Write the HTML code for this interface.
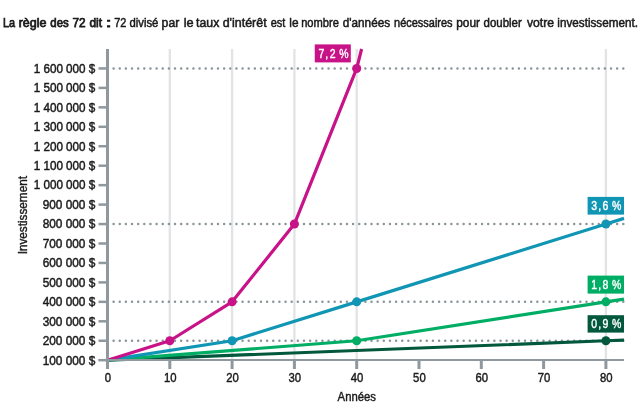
<!DOCTYPE html>
<html><head><meta charset="utf-8"><style>
html,body{margin:0;padding:0;background:#fff;}
svg{display:block;font-family:"Liberation Sans",sans-serif;will-change:transform;}
</style></head><body>
<svg width="642" height="419" viewBox="0 0 642 419">
<rect width="642" height="419" fill="#fff"/>
<line x1="169.80" y1="49" x2="169.80" y2="360" stroke="#e2e3e6" stroke-width="2.3"/>
<line x1="232.10" y1="49" x2="232.10" y2="360" stroke="#e2e3e6" stroke-width="2.3"/>
<line x1="294.40" y1="49" x2="294.40" y2="360" stroke="#e2e3e6" stroke-width="2.3"/>
<line x1="356.70" y1="49" x2="356.70" y2="360" stroke="#e2e3e6" stroke-width="2.3"/>
<line x1="605.90" y1="49" x2="605.90" y2="360" stroke="#e2e3e6" stroke-width="2.3"/>
<line x1="113.6" y1="68.45" x2="624" y2="68.45" stroke="#8a9499" stroke-width="2.5" stroke-linecap="round" stroke-dasharray="0 6.141"/>
<line x1="113.6" y1="224.05" x2="624" y2="224.05" stroke="#8a9499" stroke-width="2.5" stroke-linecap="round" stroke-dasharray="0 6.141"/>
<line x1="113.6" y1="301.85" x2="624" y2="301.85" stroke="#8a9499" stroke-width="2.5" stroke-linecap="round" stroke-dasharray="0 6.141"/>
<line x1="113.6" y1="340.75" x2="624" y2="340.75" stroke="#8a9499" stroke-width="2.5" stroke-linecap="round" stroke-dasharray="0 6.141"/>
<polyline points="107.50,360.20 605.90,340.75 624.00,340.05" fill="none" stroke="#02583c" stroke-width="3.2" stroke-linejoin="round"/>
<polyline points="107.50,360.20 356.70,340.75 605.90,301.85 624.00,299.05" fill="none" stroke="#00ad64" stroke-width="3.2" stroke-linejoin="round"/>
<polyline points="107.50,360.20 232.10,340.75 356.70,301.85 605.90,224.05 624.00,218.40" fill="none" stroke="#1096b4" stroke-width="3.2" stroke-linejoin="round"/>
<polyline points="107.50,360.20 169.80,340.75 232.10,301.85 294.40,224.05 356.70,68.45 361.60,49.00" fill="none" stroke="#c81287" stroke-width="3.2" stroke-linejoin="round"/>
<circle cx="605.90" cy="340.75" r="4.5" fill="#02583c"/>
<circle cx="356.70" cy="340.75" r="4.5" fill="#00ad64"/>
<circle cx="605.90" cy="301.85" r="4.5" fill="#00ad64"/>
<circle cx="232.10" cy="340.75" r="4.5" fill="#1096b4"/>
<circle cx="356.70" cy="301.85" r="4.5" fill="#1096b4"/>
<circle cx="605.90" cy="224.05" r="4.5" fill="#1096b4"/>
<circle cx="169.80" cy="340.75" r="4.5" fill="#c81287"/>
<circle cx="232.10" cy="301.85" r="4.5" fill="#c81287"/>
<circle cx="294.40" cy="224.05" r="4.5" fill="#c81287"/>
<circle cx="356.70" cy="68.45" r="4.5" fill="#c81287"/>
<line x1="107.5" y1="49" x2="107.5" y2="369" stroke="#8f989d" stroke-width="3"/>
<line x1="98.5" y1="360" x2="624" y2="360" stroke="#8f989d" stroke-width="2.2"/>
<line x1="98.5" y1="360.20" x2="107" y2="360.20" stroke="#8f989d" stroke-width="2.5"/>
<line x1="98.5" y1="340.75" x2="107" y2="340.75" stroke="#8f989d" stroke-width="2.5"/>
<line x1="98.5" y1="321.30" x2="107" y2="321.30" stroke="#8f989d" stroke-width="2.5"/>
<line x1="98.5" y1="301.85" x2="107" y2="301.85" stroke="#8f989d" stroke-width="2.5"/>
<line x1="98.5" y1="282.40" x2="107" y2="282.40" stroke="#8f989d" stroke-width="2.5"/>
<line x1="98.5" y1="262.95" x2="107" y2="262.95" stroke="#8f989d" stroke-width="2.5"/>
<line x1="98.5" y1="243.50" x2="107" y2="243.50" stroke="#8f989d" stroke-width="2.5"/>
<line x1="98.5" y1="224.05" x2="107" y2="224.05" stroke="#8f989d" stroke-width="2.5"/>
<line x1="98.5" y1="204.60" x2="107" y2="204.60" stroke="#8f989d" stroke-width="2.5"/>
<line x1="98.5" y1="185.15" x2="107" y2="185.15" stroke="#8f989d" stroke-width="2.5"/>
<line x1="98.5" y1="165.70" x2="107" y2="165.70" stroke="#8f989d" stroke-width="2.5"/>
<line x1="98.5" y1="146.25" x2="107" y2="146.25" stroke="#8f989d" stroke-width="2.5"/>
<line x1="98.5" y1="126.80" x2="107" y2="126.80" stroke="#8f989d" stroke-width="2.5"/>
<line x1="98.5" y1="107.35" x2="107" y2="107.35" stroke="#8f989d" stroke-width="2.5"/>
<line x1="98.5" y1="87.90" x2="107" y2="87.90" stroke="#8f989d" stroke-width="2.5"/>
<line x1="98.5" y1="68.45" x2="107" y2="68.45" stroke="#8f989d" stroke-width="2.5"/>
<line x1="169.80" y1="360" x2="169.80" y2="369" stroke="#8f989d" stroke-width="3"/>
<line x1="232.10" y1="360" x2="232.10" y2="369" stroke="#8f989d" stroke-width="3"/>
<line x1="294.40" y1="360" x2="294.40" y2="369" stroke="#8f989d" stroke-width="3"/>
<line x1="356.70" y1="360" x2="356.70" y2="369" stroke="#8f989d" stroke-width="3"/>
<line x1="419.00" y1="360" x2="419.00" y2="369" stroke="#8f989d" stroke-width="3"/>
<line x1="481.30" y1="360" x2="481.30" y2="369" stroke="#8f989d" stroke-width="3"/>
<line x1="543.60" y1="360" x2="543.60" y2="369" stroke="#8f989d" stroke-width="3"/>
<line x1="605.90" y1="360" x2="605.90" y2="369" stroke="#8f989d" stroke-width="3"/>
<rect x="314.75" y="44.4" width="36.05" height="18" fill="#c81287"/><text transform="translate(321.35,57.60) scale(0.86,1)" text-anchor="middle" fill="#fff" font-size="12.2" stroke="#fff" stroke-width="0.4">7</text><text transform="translate(326.75,57.60) scale(0.86,1)" text-anchor="middle" fill="#fff" font-size="12.2" stroke="#fff" stroke-width="0.4">,</text><text transform="translate(332.55,57.60) scale(0.86,1)" text-anchor="middle" fill="#fff" font-size="12.2" stroke="#fff" stroke-width="0.4">2</text><text transform="translate(343.85,57.60) scale(0.86,1)" text-anchor="middle" fill="#fff" font-size="12.2" stroke="#fff" stroke-width="0.4">%</text>
<rect x="587.6" y="196.9" width="36.4" height="17.7" fill="#1096b4"/><text transform="translate(594.20,210.10) scale(0.86,1)" text-anchor="middle" fill="#fff" font-size="12.2" stroke="#fff" stroke-width="0.4">3</text><text transform="translate(599.60,210.10) scale(0.86,1)" text-anchor="middle" fill="#fff" font-size="12.2" stroke="#fff" stroke-width="0.4">,</text><text transform="translate(605.40,210.10) scale(0.86,1)" text-anchor="middle" fill="#fff" font-size="12.2" stroke="#fff" stroke-width="0.4">6</text><text transform="translate(616.70,210.10) scale(0.86,1)" text-anchor="middle" fill="#fff" font-size="12.2" stroke="#fff" stroke-width="0.4">%</text>
<rect x="587.6" y="275.6" width="36.4" height="18" fill="#00ad64"/><text transform="translate(594.20,288.80) scale(0.86,1)" text-anchor="middle" fill="#fff" font-size="12.2" stroke="#fff" stroke-width="0.4">1</text><text transform="translate(599.60,288.80) scale(0.86,1)" text-anchor="middle" fill="#fff" font-size="12.2" stroke="#fff" stroke-width="0.4">,</text><text transform="translate(605.40,288.80) scale(0.86,1)" text-anchor="middle" fill="#fff" font-size="12.2" stroke="#fff" stroke-width="0.4">8</text><text transform="translate(616.70,288.80) scale(0.86,1)" text-anchor="middle" fill="#fff" font-size="12.2" stroke="#fff" stroke-width="0.4">%</text>
<rect x="587.6" y="315.2" width="36.4" height="17.4" fill="#02583c"/><text transform="translate(594.20,328.40) scale(0.86,1)" text-anchor="middle" fill="#fff" font-size="12.2" stroke="#fff" stroke-width="0.4">0</text><text transform="translate(599.60,328.40) scale(0.86,1)" text-anchor="middle" fill="#fff" font-size="12.2" stroke="#fff" stroke-width="0.4">,</text><text transform="translate(605.40,328.40) scale(0.86,1)" text-anchor="middle" fill="#fff" font-size="12.2" stroke="#fff" stroke-width="0.4">9</text><text transform="translate(616.70,328.40) scale(0.86,1)" text-anchor="middle" fill="#fff" font-size="12.2" stroke="#fff" stroke-width="0.4">%</text>
<text x="95.3" y="364.50" text-anchor="end" font-size="12" fill="#1a1a1a" textLength="52.6" lengthAdjust="spacingAndGlyphs" stroke="#1a1a1a" stroke-width="0.45">100 000 $</text>
<text x="95.3" y="345.05" text-anchor="end" font-size="12" fill="#1a1a1a" textLength="52.6" lengthAdjust="spacingAndGlyphs" stroke="#1a1a1a" stroke-width="0.45">200 000 $</text>
<text x="95.3" y="325.60" text-anchor="end" font-size="12" fill="#1a1a1a" textLength="52.6" lengthAdjust="spacingAndGlyphs" stroke="#1a1a1a" stroke-width="0.45">300 000 $</text>
<text x="95.3" y="306.15" text-anchor="end" font-size="12" fill="#1a1a1a" textLength="52.6" lengthAdjust="spacingAndGlyphs" stroke="#1a1a1a" stroke-width="0.45">400 000 $</text>
<text x="95.3" y="286.70" text-anchor="end" font-size="12" fill="#1a1a1a" textLength="52.6" lengthAdjust="spacingAndGlyphs" stroke="#1a1a1a" stroke-width="0.45">500 000 $</text>
<text x="95.3" y="267.25" text-anchor="end" font-size="12" fill="#1a1a1a" textLength="52.6" lengthAdjust="spacingAndGlyphs" stroke="#1a1a1a" stroke-width="0.45">600 000 $</text>
<text x="95.3" y="247.80" text-anchor="end" font-size="12" fill="#1a1a1a" textLength="52.6" lengthAdjust="spacingAndGlyphs" stroke="#1a1a1a" stroke-width="0.45">700 000 $</text>
<text x="95.3" y="228.35" text-anchor="end" font-size="12" fill="#1a1a1a" textLength="52.6" lengthAdjust="spacingAndGlyphs" stroke="#1a1a1a" stroke-width="0.45">800 000 $</text>
<text x="95.3" y="208.90" text-anchor="end" font-size="12" fill="#1a1a1a" textLength="52.6" lengthAdjust="spacingAndGlyphs" stroke="#1a1a1a" stroke-width="0.45">900 000 $</text>
<text x="95.3" y="189.45" text-anchor="end" font-size="12" fill="#1a1a1a" textLength="61.6" lengthAdjust="spacingAndGlyphs" stroke="#1a1a1a" stroke-width="0.45">1 000 000 $</text>
<text x="95.3" y="170.00" text-anchor="end" font-size="12" fill="#1a1a1a" textLength="61.6" lengthAdjust="spacingAndGlyphs" stroke="#1a1a1a" stroke-width="0.45">1 100 000 $</text>
<text x="95.3" y="150.55" text-anchor="end" font-size="12" fill="#1a1a1a" textLength="61.6" lengthAdjust="spacingAndGlyphs" stroke="#1a1a1a" stroke-width="0.45">1 200 000 $</text>
<text x="95.3" y="131.10" text-anchor="end" font-size="12" fill="#1a1a1a" textLength="61.6" lengthAdjust="spacingAndGlyphs" stroke="#1a1a1a" stroke-width="0.45">1 300 000 $</text>
<text x="95.3" y="111.65" text-anchor="end" font-size="12" fill="#1a1a1a" textLength="61.6" lengthAdjust="spacingAndGlyphs" stroke="#1a1a1a" stroke-width="0.45">1 400 000 $</text>
<text x="95.3" y="92.20" text-anchor="end" font-size="12" fill="#1a1a1a" textLength="61.6" lengthAdjust="spacingAndGlyphs" stroke="#1a1a1a" stroke-width="0.45">1 500 000 $</text>
<text x="95.3" y="72.75" text-anchor="end" font-size="12" fill="#1a1a1a" textLength="61.6" lengthAdjust="spacingAndGlyphs" stroke="#1a1a1a" stroke-width="0.45">1 600 000 $</text>
<text x="107.90" y="382.4" text-anchor="middle" font-size="13.5" fill="#1a1a1a" textLength="6.3" lengthAdjust="spacingAndGlyphs" stroke="#1a1a1a" stroke-width="0.45">0</text>
<text x="170.20" y="382.4" text-anchor="middle" font-size="13.5" fill="#1a1a1a" textLength="12.6" lengthAdjust="spacingAndGlyphs" stroke="#1a1a1a" stroke-width="0.45">10</text>
<text x="232.50" y="382.4" text-anchor="middle" font-size="13.5" fill="#1a1a1a" textLength="12.6" lengthAdjust="spacingAndGlyphs" stroke="#1a1a1a" stroke-width="0.45">20</text>
<text x="294.80" y="382.4" text-anchor="middle" font-size="13.5" fill="#1a1a1a" textLength="12.6" lengthAdjust="spacingAndGlyphs" stroke="#1a1a1a" stroke-width="0.45">30</text>
<text x="357.10" y="382.4" text-anchor="middle" font-size="13.5" fill="#1a1a1a" textLength="12.6" lengthAdjust="spacingAndGlyphs" stroke="#1a1a1a" stroke-width="0.45">40</text>
<text x="419.40" y="382.4" text-anchor="middle" font-size="13.5" fill="#1a1a1a" textLength="12.6" lengthAdjust="spacingAndGlyphs" stroke="#1a1a1a" stroke-width="0.45">50</text>
<text x="481.70" y="382.4" text-anchor="middle" font-size="13.5" fill="#1a1a1a" textLength="12.6" lengthAdjust="spacingAndGlyphs" stroke="#1a1a1a" stroke-width="0.45">60</text>
<text x="544.00" y="382.4" text-anchor="middle" font-size="13.5" fill="#1a1a1a" textLength="12.6" lengthAdjust="spacingAndGlyphs" stroke="#1a1a1a" stroke-width="0.45">70</text>
<text x="606.30" y="382.4" text-anchor="middle" font-size="13.5" fill="#1a1a1a" textLength="12.6" lengthAdjust="spacingAndGlyphs" stroke="#1a1a1a" stroke-width="0.45">80</text>
<text x="356.8" y="401" text-anchor="middle" font-size="12" fill="#1a1a1a" stroke="#1a1a1a" stroke-width="0.4" textLength="38.4" lengthAdjust="spacingAndGlyphs">Années</text>
<text transform="translate(27,215.2) rotate(-90)" text-anchor="middle" font-size="12" fill="#1a1a1a" stroke="#1a1a1a" stroke-width="0.4" textLength="78.3" lengthAdjust="spacingAndGlyphs">Investissement</text>
<text x="3.02" y="26.6" font-size="12.3" fill="#1a1a1a" stroke="#1a1a1a" stroke-width="0.75" textLength="12.07" lengthAdjust="spacingAndGlyphs">La</text><text x="18.68" y="26.6" font-size="12.3" fill="#1a1a1a" stroke="#1a1a1a" stroke-width="0.75" textLength="27.88" lengthAdjust="spacingAndGlyphs">règle</text><text x="50.34" y="26.6" font-size="12.3" fill="#1a1a1a" stroke="#1a1a1a" stroke-width="0.75" textLength="18.36" lengthAdjust="spacingAndGlyphs">des</text><text x="72.52" y="26.6" font-size="12.3" fill="#1a1a1a" stroke="#1a1a1a" stroke-width="0.75" textLength="13.14" lengthAdjust="spacingAndGlyphs">72</text><text x="89.42" y="26.6" font-size="12.3" fill="#1a1a1a" stroke="#1a1a1a" stroke-width="0.75" textLength="12.57" lengthAdjust="spacingAndGlyphs">dit</text><text x="105.87" y="26.6" font-size="12.3" fill="#1a1a1a" stroke="#1a1a1a" stroke-width="0.75" textLength="5.70" lengthAdjust="spacingAndGlyphs">:</text><text x="114.27" y="26.6" font-size="12.3" fill="#1a1a1a" stroke="#1a1a1a" stroke-width="0.5" textLength="12.15" lengthAdjust="spacingAndGlyphs">72</text><text x="129.54" y="26.6" font-size="12.3" fill="#1a1a1a" stroke="#1a1a1a" stroke-width="0.5" textLength="28.86" lengthAdjust="spacingAndGlyphs">divisé</text><text x="161.60" y="26.6" font-size="12.3" fill="#1a1a1a" stroke="#1a1a1a" stroke-width="0.5" textLength="17.67" lengthAdjust="spacingAndGlyphs">par</text><text x="183.67" y="26.6" font-size="12.3" fill="#1a1a1a" stroke="#1a1a1a" stroke-width="0.5" textLength="9.92" lengthAdjust="spacingAndGlyphs">le</text><text x="196.10" y="26.6" font-size="12.3" fill="#1a1a1a" stroke="#1a1a1a" stroke-width="0.5" textLength="23.25" lengthAdjust="spacingAndGlyphs">taux</text><text x="222.69" y="26.6" font-size="12.3" fill="#1a1a1a" stroke="#1a1a1a" stroke-width="0.5" textLength="43.98" lengthAdjust="spacingAndGlyphs">d'intérêt</text><text x="270.75" y="26.6" font-size="12.3" fill="#1a1a1a" stroke="#1a1a1a" stroke-width="0.5" textLength="14.64" lengthAdjust="spacingAndGlyphs">est</text><text x="289.33" y="26.6" font-size="12.3" fill="#1a1a1a" stroke="#1a1a1a" stroke-width="0.5" textLength="9.22" lengthAdjust="spacingAndGlyphs">le</text><text x="301.18" y="26.6" font-size="12.3" fill="#1a1a1a" stroke="#1a1a1a" stroke-width="0.5" textLength="37.78" lengthAdjust="spacingAndGlyphs">nombre</text><text x="342.72" y="26.6" font-size="12.3" fill="#1a1a1a" stroke="#1a1a1a" stroke-width="0.5" textLength="47.40" lengthAdjust="spacingAndGlyphs">d'années</text><text x="394.09" y="26.6" font-size="12.3" fill="#1a1a1a" stroke="#1a1a1a" stroke-width="0.5" textLength="58.50" lengthAdjust="spacingAndGlyphs">nécessaires</text><text x="456.23" y="26.6" font-size="12.3" fill="#1a1a1a" stroke="#1a1a1a" stroke-width="0.5" textLength="23.78" lengthAdjust="spacingAndGlyphs">pour</text><text x="483.53" y="26.6" font-size="12.3" fill="#1a1a1a" stroke="#1a1a1a" stroke-width="0.5" textLength="38.28" lengthAdjust="spacingAndGlyphs">doubler</text><text x="526.90" y="26.6" font-size="12.3" fill="#1a1a1a" stroke="#1a1a1a" stroke-width="0.5" textLength="27.14" lengthAdjust="spacingAndGlyphs">votre</text><text x="557.34" y="26.6" font-size="12.3" fill="#1a1a1a" stroke="#1a1a1a" stroke-width="0.5" textLength="80.67" lengthAdjust="spacingAndGlyphs">investissement.</text>
</svg></body></html>
